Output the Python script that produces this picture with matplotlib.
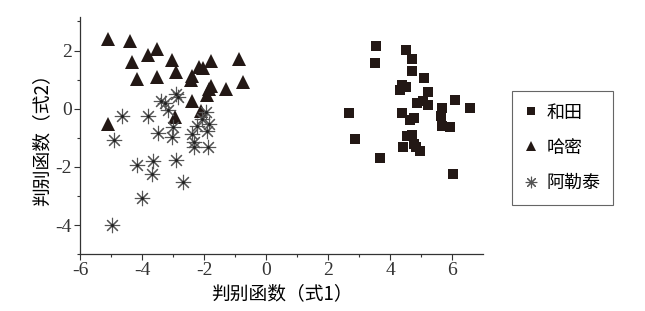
import numpy as np
import matplotlib.pyplot as plt

plt.rcParams['font.family'] = ['Liberation Serif', 'Noto Sans CJK SC']
plt.rcParams['axes.unicode_minus'] = False

# 和田
hetian_x = [3.54, 4.51, 4.70, 3.51, 4.70, 5.08, 4.38, 4.51, 4.31, 5.21, 6.09, 4.88,
            5.06, 5.23, 6.57, 5.69, 5.65, 2.68, 4.40, 4.63, 4.77, 5.69, 5.93, 2.87,
            4.56, 4.72, 4.42, 4.77, 4.83, 4.97, 3.67, 6.03]
hetian_y = [2.15, 2.03, 1.71, 1.56, 1.29, 1.06, 0.83, 0.76, 0.64, 0.56, 0.31, 0.18,
            0.28, 0.14, 0.01, 0.02, -0.24, -0.14, -0.16, -0.38, -0.33, -0.60, -0.64, -1.05,
            -0.94, -0.90, -1.31, -1.22, -1.31, -1.47, -1.68, -2.23]

# 哈密
hami_x = [-5.09, -4.39, -3.53, -3.80, -4.33, -3.02, -1.78, -0.87, -2.89, -4.15, -3.51, -2.38,
          -2.16, -2.02, -2.43, -1.78, -1.84, -1.30, -0.73, -1.89, -2.38, -2.11, -2.94, -5.10]
hami_y = [2.38, 2.32, 2.05, 1.86, 1.60, 1.68, 1.63, 1.70, 1.27, 1.02, 1.08, 1.14,
          1.42, 1.39, 0.99, 0.79, 0.68, 0.68, 0.93, 0.48, 0.25, -0.09, -0.27, -0.53]

# 阿勒泰
aletai_x = [-4.63, -3.82, -3.38, -3.26, -3.15, -2.91, -2.84, -1.95, -2.05, -2.22, -1.84, -3.00,
            -3.48, -3.02, -2.38, -1.89, -4.90, -2.32, -2.32, -1.86, -4.17, -3.65, -3.67, -2.91,
            -2.68, -4.01, -4.96]
aletai_y = [-0.26, -0.26, 0.28, 0.18, -0.05, 0.51, 0.39, -0.13, -0.36, -0.59, -0.53, -0.62,
            -0.82, -0.97, -0.87, -0.76, -1.08, -1.16, -1.33, -1.31, -1.94, -1.79, -2.25, -1.77,
            -2.51, -3.06, -4.01]

fig = plt.figure(figsize=(6.45, 3.11), dpi=100)
ax = fig.add_axes([0.124, 0.183, 0.625, 0.762])

sq, = ax.plot(hetian_x, hetian_y, 's', color='#231815', markersize=7, markeredgewidth=0)
tri, = ax.plot(hami_x, hami_y, '^', color='#231815', markersize=9.5, markeredgewidth=0)
st, = ax.plot(aletai_x, aletai_y, marker=(8, 2, 0), linestyle='none', color='#555555',
              markersize=11, markeredgewidth=0.8)
ax.plot(aletai_x, aletai_y, '.', color='#222222', markersize=2.5)

ax.set_xlim(-6, 7)
ax.set_ylim(-5, 3.15)
ax.set_xticks([-6, -4, -2, 0, 2, 4, 6])
ax.set_yticks([-4, -2, 0, 2])
ax.set_xticks(np.arange(-5, 7, 2), minor=True)
ax.set_yticks([-5, -3, -1, 1, 3], minor=True)
ax.spines['top'].set_visible(False)
ax.spines['right'].set_visible(False)
for s in ['left', 'bottom']:
    ax.spines[s].set_color('#333333')
    ax.spines[s].set_linewidth(0.9)
ax.tick_params(which='major', direction='out', length=4, width=0.8, labelsize=14,
               colors='#333333', pad=2)
ax.tick_params(which='minor', direction='out', length=2.5, width=0.8, colors='#333333')

ax.set_xlabel('判别函数（式1）', fontsize=13.5, family=['Noto Sans CJK SC'], labelpad=3)
ax.set_ylabel('判别函数（式2）', fontsize=13.5, family=['Noto Sans CJK SC'], labelpad=2)

leg = fig.legend([sq, tri, st], ['和田', '哈密', '阿勒泰'],
                 loc='upper left', bbox_to_anchor=(512 / 645, 1 - 91 / 311),
                 prop={'family': 'Noto Sans CJK SC', 'size': 13},
                 fancybox=False, edgecolor='#666666', framealpha=1,
                 handlelength=0.7, handletextpad=0.5, labelspacing=0.95,
                 borderpad=0.7, borderaxespad=0, markerscale=0.75)
leg.get_frame().set_linewidth(0.8)

fig.savefig('out.png', dpi=100)
